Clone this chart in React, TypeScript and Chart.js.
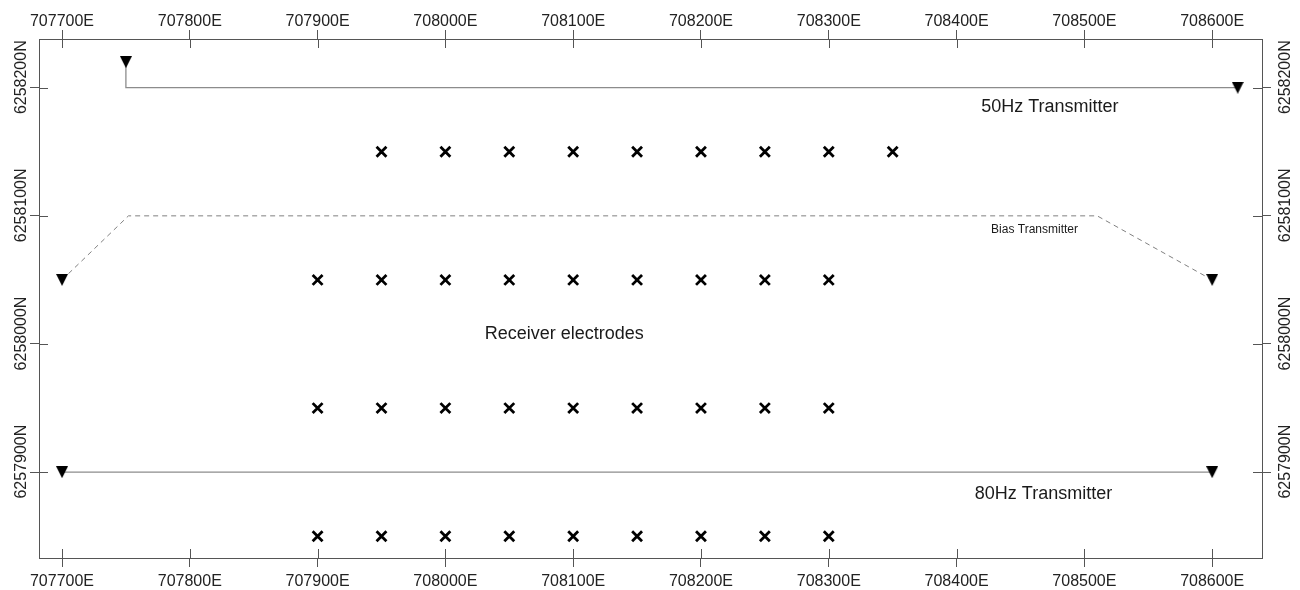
import React, { useEffect, useRef } from "react";
import { Chart, registerables } from "chart.js";

Chart.register(...registerables);

// Map extent (UTM metres)
const EAST_MIN = 707682;
const EAST_MAX = 708639;
const NORTH_MIN = 6257833;
const NORTH_MAX = 6258238;

// Grid tick values
const eastTickValues = [707700, 707800, 707900, 708000, 708100, 708200, 708300, 708400, 708500, 708600];
const northTickValues = [6257900, 6258000, 6258100, 6258200];

// 50 Hz transmitter cable
const tx50East = [707750, 707750, 708620];
const tx50North = [6258220, 6258200, 6258200];

// Bias transmitter cable
const biasEast = [707700, 707752, 708510, 708600];
const biasNorth = [6258050, 6258100, 6258100, 6258050];

// 80 Hz transmitter cable
const tx80East = [707700, 708600];
const tx80North = [6257900, 6257900];

// Receiver electrode rows
const row1East = [707950, 708000, 708050, 708100, 708150, 708200, 708250, 708300, 708350];
const row1North = 6258150;
const row2East = [707900, 707950, 708000, 708050, 708100, 708150, 708200, 708250, 708300];
const row2North = 6258050;
const row3East = [707900, 707950, 708000, 708050, 708100, 708150, 708200, 708250, 708300];
const row3North = 6257950;
const row4East = [707900, 707950, 708000, 708050, 708100, 708150, 708200, 708250, 708300];
const row4North = 6257850;

// Map annotations
const noteText = ["50Hz Transmitter", "Bias Transmitter", "Receiver electrodes", "80Hz Transmitter"];
const noteEast = [708473, 708461, 708093, 708468];
const noteNorth = [6258185, 6258089, 6258008, 6257883];

const FONT = "'Liberation Sans', Arial, Helvetica, sans-serif";
const FRAME = "#555555";
const CABLE = "#8c8c8c";
const TICK_IN = 9;

const noteFontSize: Record<string, number> = {
  "50Hz Transmitter": 18,
  "Bias Transmitter": 12,
  "Receiver electrodes": 18,
  "80Hz Transmitter": 18,
};

const zip = (xs: number[], ys: number[]) => xs.map((x, i) => ({ x, y: ys[i] }));
const row = (xs: number[], y: number) => xs.map((x) => ({ x, y }));

function makeTriangle(): HTMLCanvasElement {
  const c = document.createElement("canvas");
  c.width = 12;
  c.height = 12;
  const g = c.getContext("2d")!;
  g.fillStyle = "#000";
  g.beginPath();
  g.moveTo(0, 0);
  g.lineTo(12, 0);
  g.lineTo(6, 12);
  g.closePath();
  g.fill();
  return c;
}

// Short tick marks pointing into the map frame
const innerTicks = {
  id: "innerTicks",
  beforeDatasetsDraw(chart: any) {
    const { ctx, chartArea: a } = chart;
    ctx.save();
    ctx.strokeStyle = FRAME;
    ctx.lineWidth = 1;
    ctx.beginPath();
    Object.values(chart.scales).forEach((s: any) => {
      s.ticks.forEach((t: any) => {
        const p = Math.round(s.getPixelForValue(t.value)) + 0.5;
        if (s.position === "top") {
          ctx.moveTo(p, a.top);
          ctx.lineTo(p, a.top + TICK_IN);
        } else if (s.position === "bottom") {
          ctx.moveTo(p, a.bottom);
          ctx.lineTo(p, a.bottom - TICK_IN);
        } else if (s.position === "left") {
          ctx.moveTo(a.left, p);
          ctx.lineTo(a.left + TICK_IN, p);
        } else if (s.position === "right") {
          ctx.moveTo(a.right, p);
          ctx.lineTo(a.right - TICK_IN, p);
        }
      });
    });
    ctx.stroke();
    ctx.restore();
  },
};

// Text labels placed in map coordinates
const mapNotes = {
  id: "mapNotes",
  afterDatasetsDraw(chart: any) {
    const { ctx } = chart;
    const sx = chart.scales.x;
    const sy = chart.scales.y;
    ctx.save();
    ctx.fillStyle = "#1a1a1a";
    ctx.textAlign = "center";
    ctx.textBaseline = "middle";
    noteText.forEach((txt, i) => {
      ctx.font = `${noteFontSize[txt]}px ${FONT}`;
      ctx.fillText(txt, sx.getPixelForValue(noteEast[i]), sy.getPixelForValue(noteNorth[i]));
    });
    ctx.restore();
  },
};

export default function App() {
  const ref = useRef<HTMLCanvasElement>(null);

  useEffect(() => {
    const canvas = ref.current;
    if (!canvas) return;
    const tri = makeTriangle();
    const ends = (n: number) => (c: any) => (c.dataIndex === 0 || c.dataIndex === n - 1 ? 6 : 0);

    const tickFont = { family: FONT, size: 16 };
    const grid = { drawOnChartArea: false, drawTicks: true, tickLength: 9, color: FRAME, lineWidth: 1 };
    const border = { display: true, color: FRAME, width: 1 };
    const eastTicks = {
      autoSkip: false,
      minRotation: 0,
      maxRotation: 0,
      color: "#222",
      font: tickFont,
      callback: (v: any) => `${v}E`,
    };
    const northTicks = {
      autoSkip: false,
      minRotation: 90,
      maxRotation: 90,
      crossAlign: "center",
      labelOffset: -10.5,
      color: "#222",
      font: tickFont,
      callback: (v: any) => `${v}N`,
    };
    const setEast = (s: any) => {
      s.ticks = eastTickValues.map((value) => ({ value }));
    };
    const setNorth = (s: any) => {
      s.ticks = northTickValues.map((value) => ({ value }));
    };

    const electrodeStyle = {
      showLine: false,
      pointStyle: "crossRot",
      pointRadius: 7,
      borderColor: "#000",
      backgroundColor: "#000",
      borderWidth: 2.8,
    };

    const chart = new Chart(canvas, {
      type: "scatter",
      data: {
        datasets: [
          {
            label: "50Hz Transmitter",
            data: zip(tx50East, tx50North),
            showLine: true,
            borderColor: CABLE,
            borderWidth: 1.3,
            pointStyle: tri,
            pointRadius: ends(tx50East.length),
          },
          {
            label: "Bias Transmitter",
            data: zip(biasEast, biasNorth),
            showLine: true,
            borderColor: "#808080",
            borderWidth: 1,
            borderDash: [5, 4],
            pointStyle: tri,
            pointRadius: ends(biasEast.length),
          },
          {
            label: "80Hz Transmitter",
            data: zip(tx80East, tx80North),
            showLine: true,
            borderColor: CABLE,
            borderWidth: 1.3,
            pointStyle: tri,
            pointRadius: ends(tx80East.length),
          },
          { label: "Receiver row 1", data: row(row1East, row1North), ...electrodeStyle },
          { label: "Receiver row 2", data: row(row2East, row2North), ...electrodeStyle },
          { label: "Receiver row 3", data: row(row3East, row3North), ...electrodeStyle },
          { label: "Receiver row 4", data: row(row4East, row4North), ...electrodeStyle },
        ] as any,
      },
      options: {
        responsive: false,
        animation: false,
        events: [],
        layout: { padding: 0 },
        plugins: { legend: { display: false }, tooltip: { enabled: false } },
        scales: {
          x: {
            type: "linear",
            axis: "x",
            position: "bottom",
            min: EAST_MIN,
            max: EAST_MAX,
            afterBuildTicks: setEast,
            ticks: { ...eastTicks, padding: 5 },
            grid,
            border,
            afterFit: (s: any) => {
              s.height = 32;
            },
          },
          x2: {
            type: "linear",
            axis: "x",
            position: "top",
            min: EAST_MIN,
            max: EAST_MAX,
            afterBuildTicks: setEast,
            ticks: { ...eastTicks, padding: -1 },
            grid,
            border,
            afterFit: (s: any) => {
              s.height = 39;
            },
          },
          y: {
            type: "linear",
            axis: "y",
            position: "left",
            min: NORTH_MIN,
            max: NORTH_MAX,
            afterBuildTicks: setNorth,
            ticks: { ...northTicks, padding: -29 },
            grid,
            border,
            afterFit: (s: any) => {
              s.width = 39;
            },
          },
          y2: {
            type: "linear",
            axis: "y",
            position: "right",
            min: NORTH_MIN,
            max: NORTH_MAX,
            afterBuildTicks: setNorth,
            ticks: { ...northTicks, padding: -22 },
            grid,
            border,
            afterFit: (s: any) => {
              s.width = 38;
            },
          },
        } as any,
      },
      plugins: [innerTicks, mapNotes],
    });

    return () => chart.destroy();
  }, []);

  return (
    <div style={{ position: "absolute", left: 0, top: 0, width: 1300, height: 590, background: "#fff" }}>
      <canvas ref={ref} width={1300} height={590} style={{ display: "block", width: 1300, height: 590 }} />
    </div>
  );
}
